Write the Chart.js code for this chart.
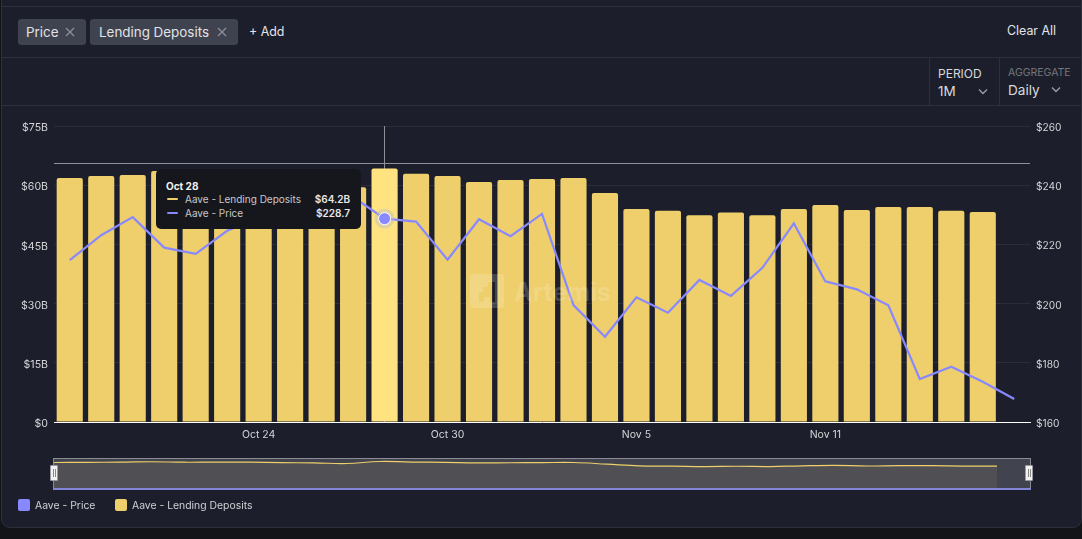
<!DOCTYPE html>
<html>
<head>
<meta charset="utf-8">
<title>Aave - Price and Lending Deposits</title>
<script src="https://cdn.jsdelivr.net/npm/chart.js@4"></script>
<style>
  html, body { margin: 0; padding: 0; width: 1082px; height: 539px; background: #131418; overflow: hidden;
    font-family: Inter, "Noto Sans", sans-serif; color: #e4e4e8; }
  .abs { position: absolute; white-space: nowrap; }
  #card { position: absolute; left: 1px; top: -10px; width: 1079px; height: 536px; background: #1c1f2b;
    border: 1px solid #2d303c; border-radius: 9px; }
  .hline { position: absolute; left: 2px; width: 1079px; height: 1px; background: #2d303c; }
  .vline { position: absolute; top: 58px; width: 1px; height: 47px; background: #2d303c; }
  .pill { position: absolute; top: 19px; height: 26px; background: #3f424f; border-radius: 3px; font-size: 13.4px; line-height: 26px; color: #e2e2e6; }
  .pill span { position: absolute; top: 0; white-space: nowrap; }
  .pill svg { position: absolute; top: 8px; }
  #main { position: absolute; left: 0; top: 110px; width: 1082px; height: 336px; }
  #slider { position: absolute; left: 53px; top: 458px; width: 976px; height: 30px; background: #41444f;
    border: 1px solid #8b8b95; border-bottom: none; box-sizing: content-box; }
  #sliderLine { position: absolute; left: 53px; top: 488px; width: 978px; height: 2px; background: #8484d8; }
  #mini { position: absolute; left: 54px; top: 459px; width: 943px; height: 30px; }
  .handle { position: absolute; top: 465px; width: 6px; height: 14px; background: #f1f1f1; border: 1px solid #9a9aa2; border-radius: 1px; }
  .handle:after { content: ""; position: absolute; left: 1.5px; top: 3px; width: 1px; height: 8px;
    border-left: 1px solid #888; border-right: 1px solid #888; }
  #tip { position: absolute; left: 156px; top: 169px; width: 205px; height: 60px; background: #16171d; border-radius: 5px; font-size: 10px; color: #c8c8cc; }
  #tip .row { position: absolute; left: 0; width: 205px; height: 14px; line-height: 14px; }
  #tip .sw { position: absolute; left: 11px; top: 6px; width: 11px; height: 2px; border-radius: 1px; }
  #tip .nm { position: absolute; left: 29px; }
  #tip .vl { position: absolute; right: 11px; font-weight: 600; color: #e8e8ea; }
  .lg { position: absolute; top: 499px; width: 12px; height: 12px; border-radius: 2px; }
  #mark { position: absolute; left: 470px; top: 274px; width: 150px; height: 36px; pointer-events: none; }
</style>
</head>
<body>
<div id="card"></div>
<div class="hline" style="top:6px"></div>
<div class="hline" style="top:57px"></div>
<div class="hline" style="top:105px"></div>
<div class="vline" style="left:929px"></div>
<div class="vline" style="left:999px"></div>

<div class="pill" style="left:18px;width:68px">
  <span style="left:8px">Price</span>
  <svg style="left:47px" width="10" height="10"><path d="M1 1L9 9M9 1L1 9" stroke="#8d8f9a" stroke-width="1.3"/></svg>
</div>
<div class="pill" style="left:90px;width:148px">
  <span style="left:9px">Lending Deposits</span>
  <svg style="left:127px" width="10" height="10"><path d="M1 1L9 9M9 1L1 9" stroke="#8d8f9a" stroke-width="1.3"/></svg>
</div>
<div class="abs" style="left:249px;top:24px;font-size:12.4px">+ Add</div>
<div class="abs" style="left:1007px;top:23px;font-size:12.4px">Clear All</div>

<div class="abs" style="left:938px;top:66px;font-size:12px;color:#d8d8dc">PERIOD</div>
<div class="abs" style="left:938px;top:83px;font-size:13.5px;color:#d8d8dc">1M</div>
<svg class="abs" style="left:978px;top:88px" width="10" height="8"><path d="M1 1.5L5 5.5L9 1.5" fill="none" stroke="#9a9ca6" stroke-width="1.4"/></svg>
<div class="abs" style="left:1008px;top:66px;font-size:10.5px;color:#74767e">AGGREGATE</div>
<div class="abs" style="left:1008px;top:82px;font-size:13.6px;color:#d8d8dc">Daily</div>
<svg class="abs" style="left:1051px;top:86px" width="10" height="8"><path d="M1 1.5L5 5.5L9 1.5" fill="none" stroke="#9a9ca6" stroke-width="1.4"/></svg>

<canvas id="main" width="1082" height="336"></canvas>

<div id="mark">
  <svg class="abs" style="left:0;top:0" width="36" height="36">
    <path fill="rgba(255,255,255,0.17)" fill-rule="evenodd" d="M3 0H31Q34 0 34 3V31Q34 34 31 34H3Q0 34 0 31V3Q0 0 3 0ZM18 8V13H13V18H9V28H14V23H20V28H25V8Z"/>
  </svg>
  <div class="abs" style="left:44px;top:2px;font-size:25px;font-weight:700;line-height:32px;color:rgba(255,255,255,0.17)">Artemis</div>
</div>

<div id="tip">
  <div class="abs" id="tipDate" style="left:10px;top:11px;font-weight:700;color:#f0f0f2"></div>
  <div class="row" style="top:23px"><div class="sw" style="background:#eecf6b"></div><div class="nm" id="tipName0"></div><div class="vl" id="tipVal0"></div></div>
  <div class="row" style="top:37px"><div class="sw" style="background:#8888ff"></div><div class="nm" id="tipName1"></div><div class="vl" id="tipVal1"></div></div>
</div>

<div id="slider"></div>
<canvas id="mini" width="943" height="30"></canvas>
<div id="sliderLine"></div>
<div class="handle" style="left:50px"></div>
<div class="handle" style="left:1025px"></div>

<div class="lg" style="left:18px;background:#8888ff"></div>
<div class="abs" id="lgPrice" style="left:35px;top:499px;font-size:10.4px;color:#d0d0d4"></div>
<div class="lg" style="left:115px;background:#eecf6b"></div>
<div class="abs" id="lgDeposits" style="left:132px;top:499px;font-size:10.4px;color:#d0d0d4"></div>

<script>
var days = ['Oct 18','Oct 19','Oct 20','Oct 21','Oct 22','Oct 23','Oct 24','Oct 25','Oct 26','Oct 27','Oct 28',
  'Oct 29','Oct 30','Oct 31','Nov 1','Nov 2','Nov 3','Nov 4','Nov 5','Nov 6','Nov 7','Nov 8','Nov 9','Nov 10',
  'Nov 11','Nov 12','Nov 13','Nov 14','Nov 15','Nov 16','Nov 17'];
var shownDays = ['Oct 24','Oct 30','Nov 5','Nov 11'];

// billions of dollars, last day has no bar yet
var deposits = [61.8,62.3,62.6,63.6,62.5,62.8,62.6,61.5,61.0,59.5,64.2,62.9,62.3,60.8,61.3,61.6,61.8,
  58.0,54.0,53.5,52.4,53.1,52.4,54.0,55.0,53.7,54.5,54.5,53.5,53.2,null];
var price = [214.7,223.1,229.2,218.9,216.8,224.6,229.0,231.0,234.0,236.0,228.7,227.7,214.8,228.5,222.8,230.3,199.5,
  188.8,202.1,196.9,208.0,202.6,212.1,227.1,207.5,204.8,199.4,174.5,178.7,173.6,167.8];

var depositTicks = [0,15,30,45,60,75];
var priceTicks = [160,180,200,220,240,260];
var depositsName = 'Aave - Lending Deposits';
var priceName = 'Aave - Price';

var activeDay = 'Oct 28';
var cursorDeposits = 65.6; // where the mouse sits on the left axis

var yellow = '#eecf6b';
var yellowHover = '#ffe380';
var purple = '#8888ff';
var activeIdx = days.indexOf(activeDay);

document.getElementById('tipDate').textContent = activeDay;
document.getElementById('tipName0').textContent = depositsName;
document.getElementById('tipName1').textContent = priceName;
document.getElementById('tipVal0').textContent = '$' + deposits[activeIdx] + 'B';
document.getElementById('tipVal1').textContent = '$' + price[activeIdx];
document.getElementById('lgPrice').textContent = priceName;
document.getElementById('lgDeposits').textContent = depositsName;

// crosshair goes under the bars, the hover dot over the line
var crosshair = {
  id: 'crosshair',
  beforeDatasetsDraw: function(chart){
    var ctx = chart.ctx;
    var a = chart.chartArea;
    var x = chart.scales.x.getPixelForValue(activeIdx);
    var y = Math.round(chart.scales.y.getPixelForValue(cursorDeposits)) + 0.5;
    ctx.save();
    ctx.strokeStyle = '#8f9096';
    ctx.lineWidth = 1;
    ctx.beginPath();
    ctx.moveTo(a.left, y);
    ctx.lineTo(a.right, y);
    ctx.moveTo(Math.round(x) - 0.5, a.top);
    ctx.lineTo(Math.round(x) - 0.5, a.bottom);
    ctx.stroke();
    ctx.restore();
  },
  afterDatasetsDraw: function(chart){
    var ctx = chart.ctx;
    var pt = chart.getDatasetMeta(1).data[activeIdx];
    ctx.save();
    ctx.fillStyle = 'rgba(190,190,190,0.45)';
    ctx.beginPath();
    ctx.arc(pt.x, pt.y, 10, 0, Math.PI * 2);
    ctx.fill();
    ctx.fillStyle = purple;
    ctx.strokeStyle = '#ffffff';
    ctx.lineWidth = 1;
    ctx.beginPath();
    ctx.arc(pt.x, pt.y, 6, 0, Math.PI * 2);
    ctx.fill();
    ctx.stroke();
    ctx.restore();
  }
};

function tickOpts(fmt, size){
  return {
    color: '#d4d4d8',
    padding: 6,
    labelOffset: 2,
    font: { family: 'Inter', size: size },
    callback: fmt
  };
}

new Chart(document.getElementById('main').getContext('2d'), {
  data: {
    labels: days,
    datasets: [{
      type: 'bar',
      label: depositsName,
      data: deposits,
      yAxisID: 'y',
      order: 2,
      backgroundColor: days.map(function(d){ return d == activeDay ? yellowHover : yellow; }),
      borderWidth: 0,
      borderRadius: { topLeft: 2, topRight: 2 },
      borderSkipped: false,
      barPercentage: 0.83,
      categoryPercentage: 1
    },{
      type: 'line',
      label: priceName,
      data: price,
      yAxisID: 'y1',
      order: 1,
      borderColor: purple,
      borderWidth: 2.2,
      pointRadius: 0,
      tension: 0,
      borderJoinStyle: 'miter'
    }]
  },
  options: {
    responsive: false,
    animation: false,
    devicePixelRatio: 1,
    layout: { padding: { top: 16 } },
    plugins: { legend: { display: false }, tooltip: { enabled: false } },
    events: [],
    scales: {
      x: {
        grid: { display: false, drawTicks: false },
        border: { color: '#ffffff', width: 1 },
        afterFit: function(s){ s.height = 24; },
        ticks: {
          color: '#d4d4d8',
          font: { family: 'Inter', size: 10.5 },
          autoSkip: false,
          maxRotation: 0,
          padding: 7,
          callback: function(v){
            var d = days[v];
            return shownDays.indexOf(d) >= 0 ? d : '';
          }
        }
      },
      y: {
        position: 'left',
        min: 0,
        max: 75,
        afterFit: function(s){ s.width = 54; },
        afterBuildTicks: function(s){ s.ticks = depositTicks.map(function(v){ return { value: v }; }); },
        grid: { color: '#2b2e3a', drawTicks: false },
        border: { display: false },
        ticks: tickOpts(function(v){ return v == 0 ? '$0' : '$' + v + 'B'; }, 10.6)
      },
      y1: {
        position: 'right',
        min: 160,
        max: 260,
        afterFit: function(s){ s.width = 52; },
        afterBuildTicks: function(s){ s.ticks = priceTicks.map(function(v){ return { value: v }; }); },
        grid: { display: false, drawTicks: false },
        border: { display: false },
        ticks: tickOpts(function(v){ return '$' + v; }, 10.2)
      }
    }
  },
  plugins: [crosshair]
});

// range slider preview
new Chart(document.getElementById('mini').getContext('2d'), {
  type: 'line',
  data: {
    labels: days.slice(0, 30),
    datasets: [{
      data: deposits.slice(0, 30),
      borderColor: yellow,
      borderWidth: 1.2,
      backgroundColor: '#504f54',
      fill: 'origin',
      pointRadius: 0,
      tension: 0.4
    }]
  },
  options: {
    responsive: false,
    animation: false,
    devicePixelRatio: 1,
    layout: { padding: 0 },
    events: [],
    plugins: { legend: { display: false }, tooltip: { enabled: false } },
    scales: {
      x: { display: false, offset: false },
      y: { display: false, min: 0, max: 70 }
    }
  }
});
</script>
</body>
</html>
